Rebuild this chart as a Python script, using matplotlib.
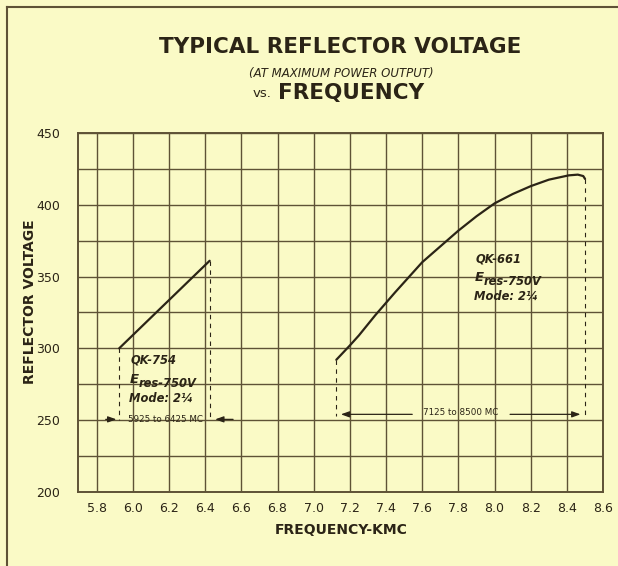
import matplotlib.pyplot as plt
from matplotlib.lines import Line2D
from matplotlib.ticker import MultipleLocator

# reference readings (frequency in KMC, reflector voltage in V)
qk754_freq = [5.925, 6.425]
qk754_volt = [300, 361]

qk661_freq = [7.125, 7.20, 7.25, 7.34, 7.45, 7.60, 7.70, 7.80, 7.90,
              8.00, 8.10, 8.20, 8.30, 8.41, 8.46, 8.49, 8.50]
qk661_volt = [292, 302, 309, 323, 339, 360, 371, 382, 392,
              401, 407.5, 413, 417.5, 420.5, 421, 420, 418]

xticks = [5.8, 6.0, 6.2, 6.4, 6.6, 6.8, 7.0, 7.2, 7.4, 7.6, 7.8, 8.0, 8.2, 8.4, 8.6]
yticks = [200, 250, 300, 350, 400, 450]

BG = "#fafac6"
GRID = "#5e5236"
INK = "#2b2416"

fig = plt.figure(figsize=(6.18, 5.66), dpi=100, facecolor=BG)
ax = fig.add_axes([0.127, 0.131, 0.849, 0.634])
ax.set_facecolor(BG)

ax.set_xlim(5.7, 8.6)
ax.set_ylim(200, 450)
ax.set_xticks(xticks)
ax.set_xticklabels([f"{v:.1f}" for v in xticks])
ax.set_yticks(yticks)
ax.yaxis.set_minor_locator(MultipleLocator(25))
ax.grid(True, which="both", color=GRID, linewidth=1.0)
ax.set_axisbelow(True)
ax.tick_params(which="both", length=0, colors=INK, labelsize=9)
ax.tick_params(axis="x", pad=7)
ax.tick_params(axis="y", pad=13)
for s in ax.spines.values():
    s.set_color(GRID)
    s.set_linewidth(1.4)

# curves
ax.plot(qk754_freq, qk754_volt, color=INK, linewidth=1.6, solid_capstyle="round")
ax.plot(qk661_freq, qk661_volt, color=INK, linewidth=1.6,
        solid_capstyle="round", solid_joinstyle="round")

# dashed range markers
dash = dict(color=INK, linewidth=0.8, linestyle=(0, (4, 4)))
ax.plot([qk754_freq[0]] * 2, [qk754_volt[0], 250], **dash)
ax.plot([qk754_freq[1]] * 2, [qk754_volt[1], 250], **dash)
ax.plot([qk661_freq[0]] * 2, [qk661_volt[0], 253], **dash)
ax.plot([qk661_freq[-1]] * 2, [qk661_volt[-1], 253], **dash)

arr = dict(arrowstyle="-|>,head_length=0.5,head_width=0.18", color=INK, lw=0.9)
ax.annotate("", xy=(5.925, 250.5), xytext=(5.835, 250.5), arrowprops=arr)
ax.annotate("", xy=(6.44, 250.5), xytext=(6.57, 250.5), arrowprops=arr)
ax.text(6.18, 250.5, "5925 to 6425 MC", fontsize=6.3, color=INK,
        ha="center", va="center")

ax.annotate("", xy=(7.135, 254), xytext=(7.56, 254), arrowprops=arr)
ax.annotate("", xy=(8.49, 254), xytext=(8.07, 254), arrowprops=arr)
ax.text(7.81, 255, "7125 to 8500 MC", fontsize=6.3, color=INK,
        ha="center", va="center")

# tube annotations
lab = dict(fontsize=8.3, color=INK, style="italic", fontweight="semibold")
big = dict(lab, fontsize=9.5)
ax.text(5.99, 292, "QK-754", ha="left", va="center", **lab)
ax.text(5.984, 278.5, "E", ha="left", va="center", **big)
ax.text(6.034, 275.8, "res-750V", ha="left", va="center", **lab)
ax.text(5.98, 265, "Mode: 2¼", ha="left", va="center", **lab)

ax.text(7.895, 362.5, "QK-661", ha="left", va="center", **lab)
ax.text(7.888, 349, "E", ha="left", va="center", **big)
ax.text(7.938, 346.3, "res-750V", ha="left", va="center", **lab)
ax.text(7.886, 336, "Mode: 2¼", ha="left", va="center", **lab)

# titles
fig.text(0.550, 0.917, "TYPICAL REFLECTOR VOLTAGE", ha="center", va="center",
         fontsize=15.5, fontweight="bold", color=INK)
fig.text(0.552, 0.871, "(AT MAXIMUM POWER OUTPUT)", ha="center", va="center",
         fontsize=8.5, style="italic", color=INK)
fig.text(0.440, 0.835, "vs.", ha="right", va="center", fontsize=9.5, color=INK)
fig.text(0.450, 0.835, "FREQUENCY", ha="left", va="center",
         fontsize=15.5, fontweight="bold", color=INK)
fig.text(0.552, 0.063, "FREQUENCY-KMC", ha="center", va="center",
         fontsize=10, fontweight="bold", color=INK)
fig.text(0.049, 0.467, "REFLECTOR VOLTAGE", ha="center", va="center",
         rotation=90, fontsize=10, fontweight="bold", color=INK)

# page frame
fig.add_artist(Line2D([0.011, 1.0], [0.988, 0.988], transform=fig.transFigure,
                      color=GRID, linewidth=1.5))
fig.add_artist(Line2D([0.011, 0.011], [0.0, 0.988], transform=fig.transFigure,
                      color=GRID, linewidth=1.5))

fig.savefig("out.png", dpi=100, facecolor=BG)
